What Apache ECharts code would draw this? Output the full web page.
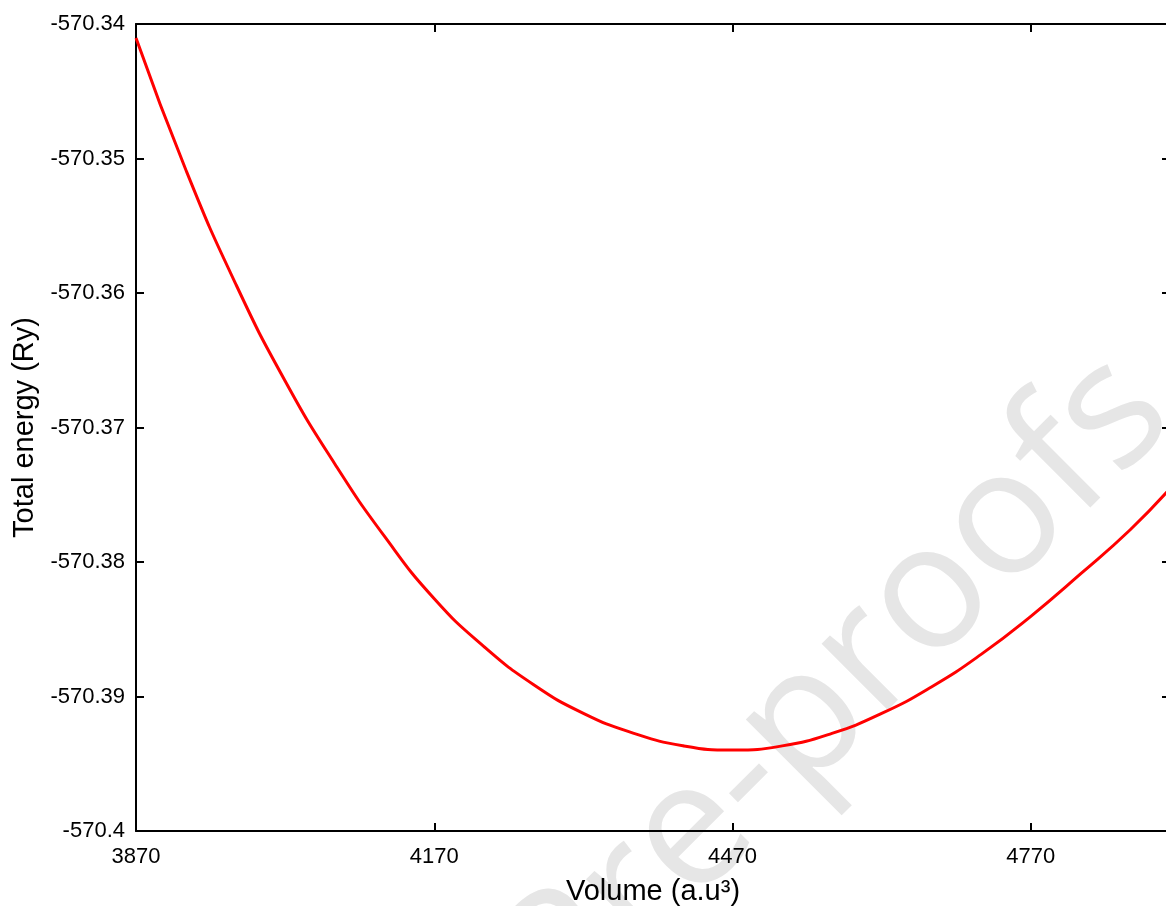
<!DOCTYPE html>
<html>
<head>
<meta charset="utf-8">
<script src="https://cdn.jsdelivr.net/npm/echarts@6/dist/echarts.min.js"></script>
<style>html,body{margin:0;padding:0;background:#fff;}#chart{width:1166px;height:906px;}</style>
</head>
<body>
<div id="chart"></div>
<script>
// Data
const volumes = [3870, 3920, 3970, 4020, 4070, 4120, 4170, 4220, 4270, 4320, 4370, 4420, 4470, 4520, 4570, 4620, 4670, 4720, 4770, 4820, 4870, 4910];
const energies = [-570.34104, -570.35082, -570.35928, -570.36654, -570.37271, -570.37810, -570.38273, -570.38629, -570.38912, -570.39125, -570.39272, -570.39366, -570.39398, -570.39367, -570.39274, -570.39126, -570.38929, -570.38687, -570.38404, -570.38089, -570.37760, -570.37454];
const xTitle = 'Volume (a.u³)';
const yTitle = 'Total energy (Ry)';
const watermark = 'Journal Pre-proofs';

const FONT = '"Liberation Sans", Arial, sans-serif';
const seriesData = volumes.map((v, i) => [v, energies[i]]);

const chart = echarts.init(document.getElementById('chart'), null, {renderer: 'canvas'});
const axisLine = {show: true, lineStyle: {color: '#000', width: 2}};
const axisTick = {show: true, inside: true, length: 8, lineStyle: {color: '#000', width: 2}};
chart.setOption({
  animation: false,
  backgroundColor: '#fff',
  grid: {left: 136, top: 24, width: 1034, height: 807, outerBoundsMode: 'none', containLabel: false},
  graphic: [{
    type: 'text',
    z: -10,
    x: 1204, y: 447,
    rotation: Math.PI / 4,
    style: {
      text: watermark,
      font: '175px "Open Sans", "Liberation Sans", sans-serif',
      fill: '#e6e6e6',
      textAlign: 'right',
      textVerticalAlign: 'bottom'
    }
  }],
  xAxis: [{
    type: 'value', min: 3870, max: 4910, interval: 300,
    position: 'bottom',
    axisLine, axisTick, splitLine: {show: false},
    axisLabel: {color: '#000', fontSize: 22, fontFamily: FONT, margin: 15, showMaxLabel: false,
      formatter: v => String(Math.round(v))},
    name: xTitle, nameLocation: 'middle', nameGap: 46,
    nameTextStyle: {color: '#000', fontSize: 29, fontFamily: FONT}
  }, {
    type: 'value', min: 3870, max: 4910, interval: 300,
    position: 'top',
    axisLine, axisTick, splitLine: {show: false},
    axisLabel: {show: false}
  }],
  yAxis: [{
    type: 'value', min: -570.4, max: -570.34, interval: 0.01,
    position: 'left',
    axisLine, axisTick, splitLine: {show: false},
    axisLabel: {color: '#000', fontSize: 22, fontFamily: FONT, margin: 11,
      formatter: v => String(+v.toFixed(2))},
    name: yTitle, nameLocation: 'middle', nameGap: 88, nameRotate: 90,
    nameTextStyle: {color: '#000', fontSize: 29, fontFamily: FONT}
  }, {
    type: 'value', min: -570.4, max: -570.34, interval: 0.01,
    position: 'right',
    axisLine, axisTick, splitLine: {show: false},
    axisLabel: {show: false}
  }],
  series: [{
    type: 'line',
    data: seriesData,
    smooth: 0.5,
    showSymbol: false,
    clip: true,
    lineStyle: {color: '#ff0000', width: 3},
    z: 5
  }]
});
</script>
</body>
</html>
